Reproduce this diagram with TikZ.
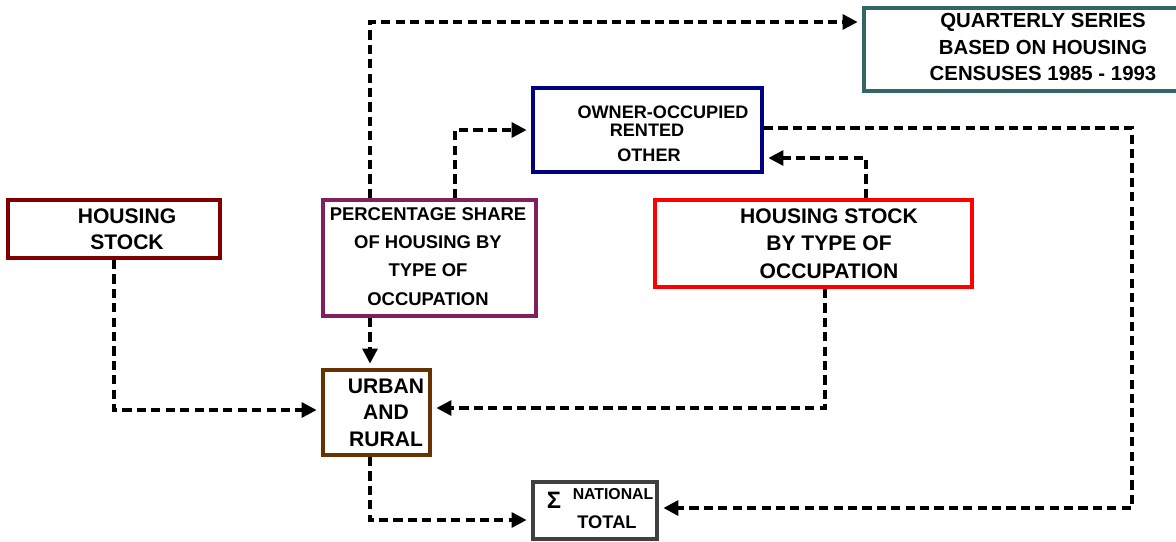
\documentclass[tikz,border=0pt]{standalone}
\usepackage{fontspec}
\setmainfont{Liberation Sans}
\usetikzlibrary{arrows.meta,calc}
\definecolor{boxdarkred}{RGB}{128,0,0}
\definecolor{boxpurple}{RGB}{128,32,96}
\definecolor{boxnavy}{RGB}{0,0,128}
\definecolor{boxteal}{RGB}{51,102,102}
\definecolor{boxbrown}{RGB}{102,51,0}
\definecolor{boxgray}{RGB}{64,64,64}
\tikzset{
  box/.style={draw=#1,line width=2.3pt,fill=white,inner sep=0pt},
  txt/.style={align=center,inner sep=0pt,font=\bfseries},
  link/.style={dash pattern=on 5.2pt off 3pt,line width=1.8pt,
    -{Triangle[length=8.5pt,width=8.5pt]},shorten >=2.5pt}
}
\begin{document}
\begin{tikzpicture}[x=0.02cm,y=-0.02cm]
  \useasboundingbox (0,0) rectangle (1176,541);
  % boxes
  \node[box=boxdarkred,minimum width=212*0.02cm,minimum height=58*0.02cm] (hs) at (114,229) {};
  \node[box=boxpurple,minimum width=213*0.02cm,minimum height=116*0.02cm] (ps) at (429.5,258) {};
  \node[box=boxnavy,minimum width=229*0.02cm,minimum height=84*0.02cm] (oo) at (647.5,130) {};
  \node[box=red,minimum width=317*0.02cm,minimum height=87*0.02cm] (hb) at (813.5,243.5) {};
  \node[box=boxteal,minimum width=336*0.02cm,minimum height=83*0.02cm] (qs) at (1032,49.5) {};
  \node[box=boxbrown,minimum width=107*0.02cm,minimum height=85*0.02cm] (ur) at (376.5,412.5) {};
  \node[box=boxgray,minimum width=124*0.02cm,minimum height=57*0.02cm] (nt) at (595,510.5) {};
  % texts
  \node[txt,font={\fontsize{12}{14.7}\selectfont\bfseries}] (hs-t) at (127,229) {HOUSING\\STOCK};
  \node[txt,font={\fontsize{10.5}{16}\selectfont\bfseries}] (ps-t) at (428,256.5)
    {PERCENTAGE SHARE\\OF HOUSING BY\\TYPE OF\\OCCUPATION};
  \node[txt,font={\fontsize{10.3}{12}\selectfont\bfseries}] (oo-a) at (663,112) {OWNER-OCCUPIED};
  \node[txt,font={\fontsize{10.3}{12}\selectfont\bfseries}] (oo-b) at (647,130) {RENTED};
  \node[txt,font={\fontsize{10.3}{12}\selectfont\bfseries}] (oo-c) at (649,155) {OTHER};
  \node[txt,font={\fontsize{12}{15.6}\selectfont\bfseries}] (hb-t) at (829,243.5)
    {HOUSING STOCK\\BY TYPE OF\\OCCUPATION};
  \node[txt,font={\fontsize{11.6}{15.3}\selectfont\bfseries}] (qs-t) at (1043,47)
    {QUARTERLY SERIES\\BASED ON HOUSING\\CENSUSES 1985 - 1993};
  \node[txt,font={\fontsize{12}{15}\selectfont\bfseries}] (ur-t) at (386,412.5) {URBAN\\AND\\RURAL};
  \node[txt,font={\fontsize{13.5}{15}\selectfont\bfseries}] (nt-s) at (554,500) {Σ};
  \node[txt,font={\fontsize{9}{11}\selectfont\bfseries}] (nt-a) at (613,494) {NATIONAL};
  \node[txt,font={\fontsize{10.4}{12}\selectfont\bfseries}] (nt-b) at (607,522) {TOTAL};
  % connectors
  \coordinate (rt) at (1132,0);
  \draw[link] (hs.south) |- ($(ur.west)+(0,-2.5)$);
  \draw[link] ($(ps.south)+(-59.5,0)$) -- ($(ur.north)+(-6.5,0)$);
  \draw[link] ($(ps.north)+(-59.5,0)$) |- ($(qs.west)+(0,-27.5)$);
  \draw[link] ($(ps.north)+(25.5,0)$) |- (oo.west);
  \draw[link] ($(hb.north)+(52.5,0)$) |- ($(oo.east)+(0,28)$);
  \draw[link] ($(hb.south)+(11.5,0)$) |- ($(ur.east)+(0,-4.5)$);
  \draw[link] ($(ur.south)+(-6.5,0)$) |- ($(nt.west)+(0,9.5)$);
  \draw[link] ($(oo.east)+(0,-2)$) -| ($(rt |- nt.east)+(0,-2.5)$) -- ($(nt.east)+(0,-2.5)$);
\end{tikzpicture}
\end{document}
